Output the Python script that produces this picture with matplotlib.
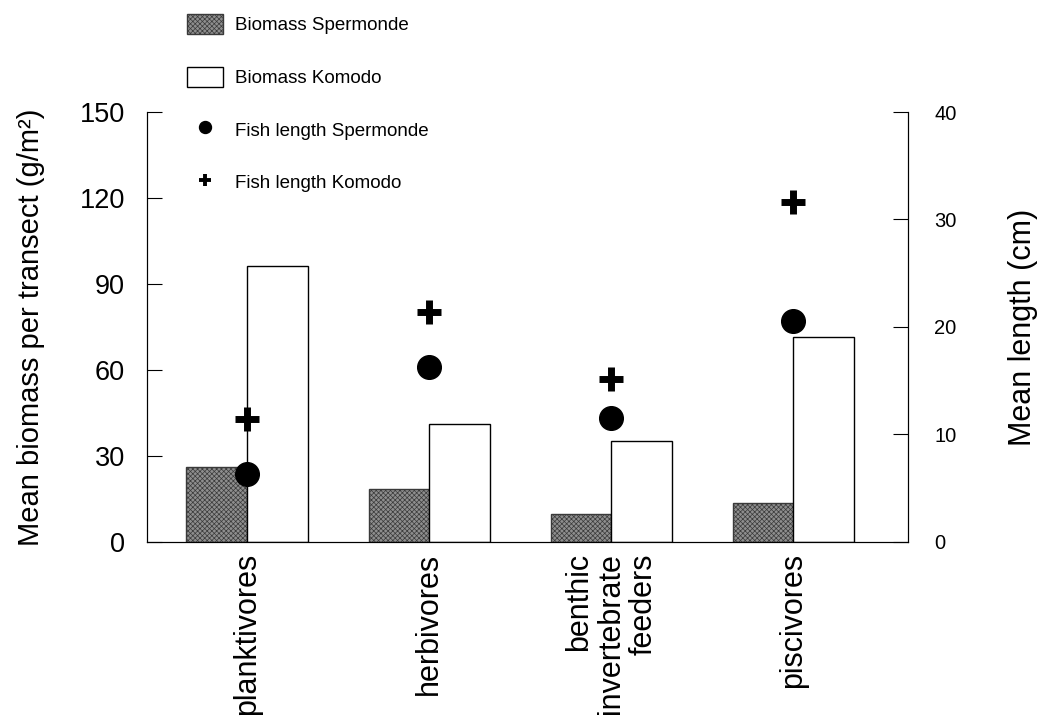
import matplotlib
matplotlib.use("Agg")
import matplotlib.pyplot as plt
import numpy as np

plt.rcParams['font.family'] = ['Liberation Sans', 'DejaVu Sans']
plt.rcParams['hatch.linewidth'] = 0.5

categories = ["planktivores", "herbivores", "benthic\ninvertebrate\nfeeders", "piscivores"]
biomass_spermonde = [26.0, 18.5, 9.8, 13.6]
biomass_komodo = [96.3, 41.2, 35.2, 71.5]
length_spermonde = [6.3, 16.3, 11.5, 20.6]
length_komodo = [11.4, 21.4, 15.2, 31.6]
left_ticks = [0, 30, 60, 90, 120, 150]
right_ticks = [0, 10, 20, 30, 40]

fig = plt.figure(figsize=(10.38, 7.24), dpi=100)
ax = fig.add_axes([0.1416, 0.2514, 0.7332, 0.5939])
ax2 = ax.twinx()

x = np.arange(len(categories))
w = 0.333
b1 = ax.bar(x - w / 2, biomass_spermonde, width=w, facecolor='#8e8e8e',
            edgecolor='#3a3a3a', hatch='xxxxxxx', linewidth=1.0, label='Biomass Spermonde')
b2 = ax.bar(x + w / 2, biomass_komodo, width=w, facecolor='white',
            edgecolor='black', linewidth=1.0, label='Biomass Komodo')

ax.set_xlim(-0.55, 3.63)
ax.set_ylim(0, 150)
ax.set_yticks(left_ticks)
ax.tick_params(axis='y', direction='in', length=11, labelsize=19.5, pad=16)
ax.set_xticks(x)
ax.set_xticklabels(categories, rotation=90, fontsize=22, linespacing=1.1,
                   multialignment='right')
ax.tick_params(axis='x', length=0, pad=8)
ax.set_ylabel('Mean biomass per transect (g/m²)', fontsize=21, labelpad=25)
ax.spines['top'].set_visible(False)

ax2.scatter(x, length_spermonde, s=290, marker='o', color='black', zorder=5,
            label='Fish length Spermonde')
ax2.scatter(x, length_komodo, s=300, marker='+', color='black', zorder=5,
            linewidths=5, label='Fish length Komodo')
ax2.set_ylim(0, 40)
ax2.set_yticks(right_ticks)
ax2.tick_params(axis='y', direction='in', length=11, labelsize=14.5, pad=19)
ax2.set_ylabel('Mean length (cm)', fontsize=22, labelpad=37)
ax2.spines['top'].set_visible(False)

# legend
handles = [b1, b2,
           plt.Line2D([], [], marker='o', color='black', linestyle='none', markersize=8.6),
           plt.Line2D([], [], marker='+', color='black', linestyle='none', markersize=8.5,
                      markeredgewidth=2.8)]
labels = ['Biomass Spermonde', 'Biomass Komodo', 'Fish length Spermonde', 'Fish length Komodo']
fig.legend(handles, labels, loc='upper left', bbox_to_anchor=(187 / 1038, 1 - 14 / 724),
           frameon=False, fontsize=13.5, labelspacing=1.72, handlelength=1.92,
           handleheight=1.28, handletextpad=0.64, borderpad=0, borderaxespad=0)

fig.savefig('out.png', dpi=100)
